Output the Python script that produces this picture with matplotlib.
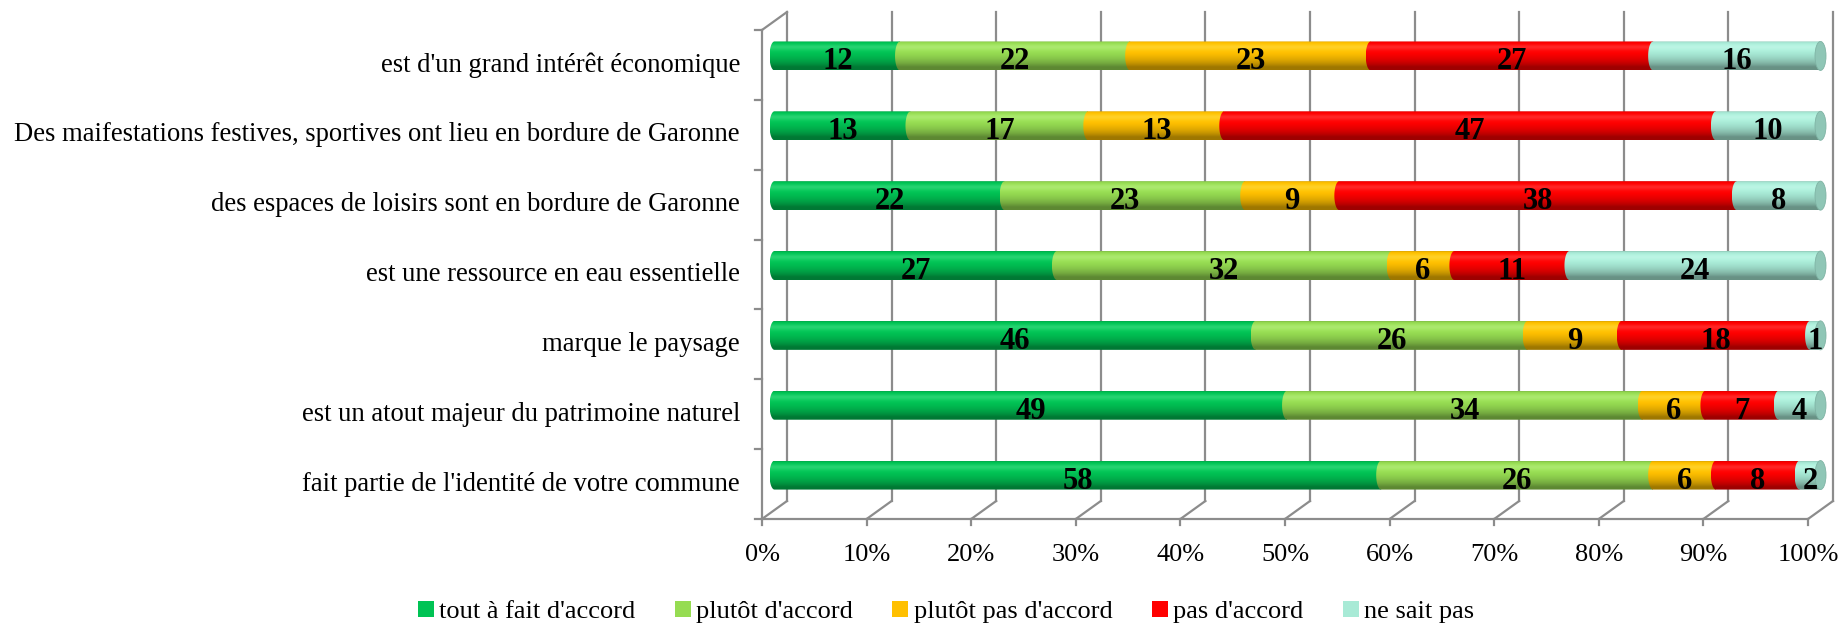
import matplotlib
matplotlib.use('Agg')
import matplotlib.pyplot as plt
from matplotlib.patches import Ellipse, Patch, Polygon
import numpy as np

plt.rcParams['font.family'] = ['Liberation Serif', 'DejaVu Serif']

# data (bottom row first)
categories = [
    "fait partie de l'identité de votre commune",
    "est un atout majeur du patrimoine naturel",
    "marque le paysage",
    "est une ressource en eau essentielle",
    "des espaces de loisirs sont en bordure de Garonne",
    "Des maifestations festives, sportives ont lieu en bordure de Garonne",
    "est d'un grand intérêt économique",
]
tout_a_fait = [58, 49, 46, 27, 22, 13, 12]
plutot_accord = [26, 34, 26, 32, 23, 17, 22]
plutot_pas = [6, 6, 9, 6, 9, 13, 23]
pas_accord = [8, 7, 18, 11, 38, 47, 27]
ne_sait_pas = [2, 4, 1, 24, 8, 10, 16]
series = [tout_a_fait, plutot_accord, plutot_pas, pas_accord, ne_sait_pas]
series_names = ["tout à fait d'accord", "plutôt d'accord", "plutôt pas d'accord", "pas d'accord", "ne sait pas"]
colors = ['#00C354', '#96DC52', '#FFC000', '#FF0000', '#A8EAD6']
ticks = list(range(0, 101, 10))

W, H = 1843, 625
fig = plt.figure(figsize=(W / 100, H / 100), dpi=100)
ax_w, ax_h = 1046, 489
ax = fig.add_axes([774.5 / W, 115 / H, ax_w / W, ax_h / H])
ax.set_xlim(0, 100)
ax.set_ylim(-0.5, 6.5)
ax.axis('off')

px_x = ax_w / 100.0   # pixels per % unit
px_y = ax_h / 7.0     # pixels per category
dxd = 12.5 / px_x     # half depth offset in data units
dyd = 9 / px_y
grey = '#8c8c8c'

# back wall gridlines, floor diagonals, front ticks
for t in ticks:
    ax.plot([t + dxd, t + dxd], [-0.5 + dyd, 6.5 + dyd], color=grey, lw=1.6, zorder=1, clip_on=False)
    ax.plot([t - dxd, t + dxd], [-0.5 - dyd, -0.5 + dyd], color=grey, lw=1.6, zorder=1, clip_on=False)
    ax.plot([t - dxd, t - dxd], [-0.5 - dyd, -0.5 - dyd - 6 / px_y], color=grey, lw=1.6, zorder=1, clip_on=False)
    ax.text(t - dxd, -0.5 - dyd - 36 / px_y, f'{t}%', ha='center', va='center', fontsize=19)

# front axes lines
ax.plot([-dxd, 100 - dxd], [-0.5 - dyd, -0.5 - dyd], color=grey, lw=1.6, zorder=1, clip_on=False)
ax.plot([-dxd, -dxd], [-0.5 - dyd, 6.5 - dyd], color=grey, lw=1.6, zorder=1, clip_on=False)
ax.plot([-dxd, dxd], [6.5 - dyd, 6.5 + dyd], color=grey, lw=1.6, zorder=1, clip_on=False)
for k in range(8):
    yk = k - 0.5 - dyd
    ax.plot([-dxd - 7 / px_x, -dxd], [yk, yk], color=grey, lw=1.6, zorder=1, clip_on=False)

for i, cat in enumerate(categories):
    ax.text(-dxd - 22 / px_x, i - dyd, cat, ha='right', va='center', fontsize=19.2)


def gradient(base):
    rgb = np.array(matplotlib.colors.to_rgb(base))
    t = np.linspace(1, 0, 40)  # top -> bottom
    theta = np.arcsin(np.clip(2 * t - 1, -1, 1))
    diff = np.clip(np.cos(theta) * 0.8 + np.sin(theta) * 0.6, 0, 1)
    fac = 0.62 + 0.42 * diff
    cols = np.clip(rgb[None, :] * fac[:, None], 0, 1)
    spec = (diff ** 30 * 0.15)[:, None]
    cols = cols * (1 - spec) + spec
    return cols[:, None, :]


bh = 29 / px_y
ew = 10 / px_x
for i in range(len(categories)):
    left = 0
    for s, col in zip(series, colors):
        v = s[i]
        ang = np.linspace(np.pi / 2, 3 * np.pi / 2, 30)
        pts = [(left + ew / 2 * np.cos(a), i + bh / 2 * np.sin(a)) for a in ang]
        pts += [(left + v, i - bh / 2), (left + v, i + bh / 2)]
        shape = Polygon(pts, closed=True, facecolor='none', edgecolor='none', clip_on=False)
        ax.add_patch(shape)
        im = ax.imshow(gradient(col), extent=[left - ew / 2, left + v, i - bh / 2, i + bh / 2],
                       aspect='auto', zorder=3, interpolation='bilinear')
        im.set_clip_box(fig.bbox)
        im.set_clip_path(shape)
        ax.text(left + v / 2, i - 6 / px_y, str(v), ha='center', va='center', fontsize=22,
                fontweight='bold', color='black', zorder=6)
        left += v
    ax.add_patch(Ellipse((left, i), ew * 1.1, bh, facecolor='#8fc6b6', edgecolor='#7fb3a4', lw=0.6,
                         zorder=4, clip_on=False))

ax.set_xlim(0, 100)
ax.set_ylim(-0.5, 6.5)

handles = [Patch(facecolor=c) for c in colors]
fig.legend(handles, series_names, loc='center', bbox_to_anchor=(946 / W, 1 - 612 / H), ncol=5,
           frameon=False, handlelength=0.6, handleheight=0.6, handletextpad=0.2, columnspacing=1.5,
           prop={'size': 19})

fig.savefig('out.png', dpi=100)
